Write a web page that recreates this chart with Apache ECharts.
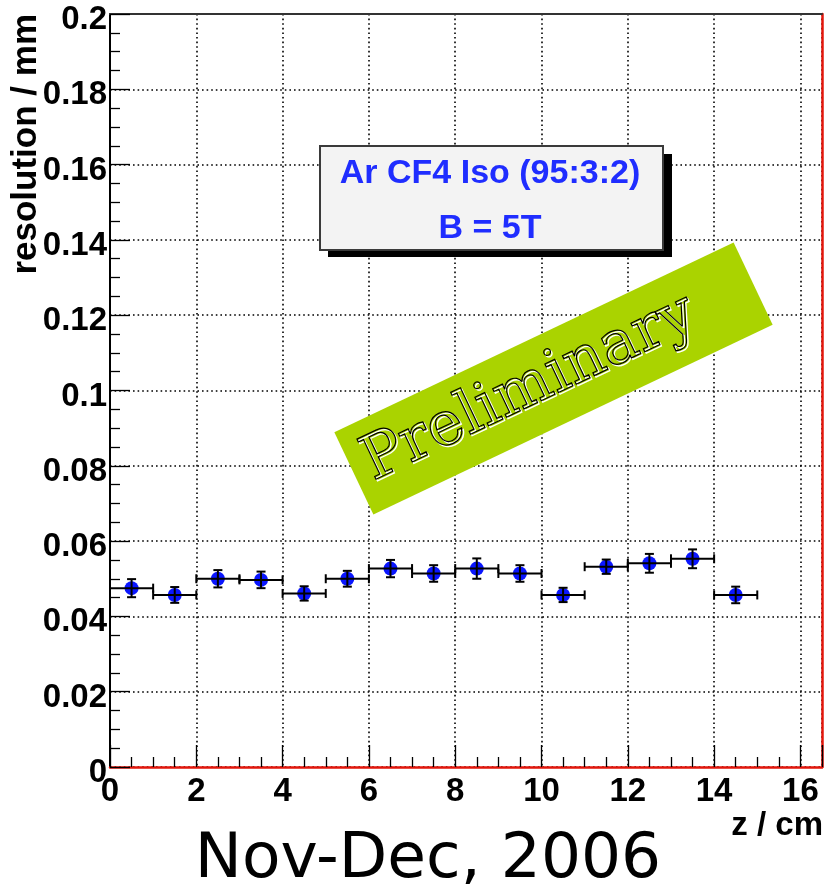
<!DOCTYPE html>
<html>
<head>
<meta charset="utf-8">
<script src="https://cdn.jsdelivr.net/npm/echarts@6/dist/echarts.min.js"></script>
<style>
html,body{margin:0;padding:0;background:#fff;}
#chart{width:827px;height:888px;}
</style>
</head>
<body>
<div id="chart"></div>
<script>
// ---- data ----
const zCenter = [0.5, 1.5, 2.5, 3.5, 4.5, 5.5, 6.5, 7.5, 8.5, 9.5, 10.5, 11.5, 12.5, 13.5, 14.5];
const zHalfWidth = [0.5, 0.5, 0.5, 0.5, 0.5, 0.5, 0.5, 0.5, 0.5, 0.5, 0.5, 0.5, 0.5, 0.5, 0.5];
const resolution = [0.0475, 0.0457, 0.0500, 0.0497, 0.0461, 0.0500, 0.0527, 0.0514, 0.0527, 0.0514, 0.0457, 0.0532, 0.0541, 0.0553, 0.0457];
const resolutionErr = [0.0024, 0.0021, 0.0023, 0.0022, 0.0019, 0.0021, 0.0023, 0.0022, 0.0027, 0.0022, 0.0019, 0.0019, 0.0025, 0.0025, 0.0022];

const xTickLabels = ['0', '2', '4', '6', '8', '10', '12', '14', '16'];
const yTickLabels = ['0', '0.02', '0.04', '0.06', '0.08', '0.1', '0.12', '0.14', '0.16', '0.18', '0.2'];

const xTitle = 'z / cm';
const yTitle = 'resolution / mm';
const legendLines = ['Ar CF4 Iso (95:3:2)', 'B = 5T'];
const stampText = 'Preliminary';
const footerText = 'Nov-Dec, 2006';

// ---- chart ----
const SANS = '"Liberation Sans", Arial, Helvetica, sans-serif';
const chart = echarts.init(document.getElementById('chart'), null, {renderer: 'canvas'});

const dotted = {color: '#000', width: 1.6, type: [1.6, 3]};

const option = {
  animation: false,
  backgroundColor: '#fff',
  grid: {left: 110, top: 14, right: 5, bottom: 121, outerBoundsMode: 'none'},
  xAxis: [{
    type: 'value', min: 0, max: 16.5, interval: 2, position: 'bottom',
    axisLine: {show: true, onZero: false, lineStyle: {color: '#e3160b', width: 2.5}},
    axisTick: {show: true, inside: true, length: 22, lineStyle: {color: '#000', width: 1.3}},
    minorTick: {show: true, splitNumber: 4, length: 10, lineStyle: {color: '#000', width: 1.3}},
    axisLabel: {
      fontFamily: SANS, fontWeight: 'bold', fontSize: 33, color: '#000', margin: 8,
      formatter: (v, i) => (xTickLabels[i] !== undefined ? xTickLabels[i] : '')
    },
    splitLine: {show: true, lineStyle: dotted}
  }, {
    type: 'value', min: 0, max: 16.5, position: 'top',
    axisLine: {show: true, onZero: false, lineStyle: {color: '#333', width: 2}},
    axisTick: {show: false}, axisLabel: {show: false}, splitLine: {show: false}
  }],
  yAxis: [{
    type: 'value', min: 0, max: 0.2, interval: 0.02, position: 'left',
    axisLine: {show: true, onZero: false, lineStyle: {color: '#000', width: 2}},
    axisTick: {show: true, inside: true, length: 20, lineStyle: {color: '#000', width: 1.3}},
    minorTick: {show: true, splitNumber: 4, length: 10, lineStyle: {color: '#000', width: 1.3}},
    axisLabel: {
      margin: 3,
      formatter: (v, i) => (yTickLabels[i] !== undefined ? '{t|' + yTickLabels[i] + '}' : ''),
      rich: {
        t: {fontFamily: SANS, fontWeight: 'bold', fontSize: 33, color: '#000', padding: [12, 0, 0, 0]}
      }
    },
    splitLine: {show: true, lineStyle: dotted}
  }, {
    type: 'value', min: 0, max: 0.2, position: 'right',
    axisLine: {show: true, onZero: false, lineStyle: {color: '#e3160b', width: 2.5}},
    axisTick: {show: false}, axisLabel: {show: false}, splitLine: {show: false}
  }],
  series: [{
    type: 'scatter',
    xAxisIndex: 0, yAxisIndex: 0,
    data: zCenter.map((z, i) => [z, resolution[i]]),
    symbol: 'circle', symbolSize: 14,
    itemStyle: {color: '#0a16ff', opacity: 1},
    z: 2
  }, {
    type: 'custom',
    xAxisIndex: 0, yAxisIndex: 0,
    data: zCenter.map((z, i) => [z, resolution[i], zHalfWidth[i], resolutionErr[i]]),
    encode: {x: 0, y: 1},
    z: 3,
    renderItem: function (params, api) {
      const x = api.value(0), y = api.value(1), xe = api.value(2), ye = api.value(3);
      const l = api.coord([x - xe, y]);
      const r = api.coord([x + xe, y]);
      const t = api.coord([x, y + ye]);
      const b = api.coord([x, y - ye]);
      const cap = 4.5;
      const st = {stroke: '#000', lineWidth: 2, fill: null};
      const ln = (x1, y1, x2, y2) => ({type: 'line', shape: {x1, y1, x2, y2}, style: st});
      return {
        type: 'group',
        children: [
          ln(l[0], l[1], r[0], r[1]),
          ln(l[0], l[1] - cap, l[0], l[1] + cap),
          ln(r[0], r[1] - cap, r[0], r[1] + cap),
          ln(t[0], t[1], b[0], b[1]),
          ln(t[0] - cap, t[1], t[0] + cap, t[1]),
          ln(b[0] - cap, b[1], b[0] + cap, b[1])
        ]
      };
    }
  }],
  graphic: [
    // y axis title
    {
      type: 'text', x: 26, y: 14, rotation: Math.PI / 2, z: 20,
      style: {text: yTitle, font: 'bold 35px ' + SANS, fill: '#000',
        textAlign: 'right', textVerticalAlign: 'middle', align: 'right', verticalAlign: 'middle'}
    },
    // x axis title
    {
      type: 'text', x: 823, y: 826, z: 20,
      style: {text: xTitle, font: 'bold 33px ' + SANS, fill: '#000',
        textAlign: 'right', textVerticalAlign: 'middle', align: 'right', verticalAlign: 'middle'}
    },
    // footer
    {
      type: 'text', x: 428, y: 861, z: 20,
      style: {text: footerText, font: '63px "DejaVu Sans", sans-serif', fill: '#000',
        textAlign: 'center', textVerticalAlign: 'middle', align: 'center', verticalAlign: 'middle'}
    },
    // legend box shadow
    {
      type: 'rect', z: 20, shape: {x: 328, y: 154, width: 344, height: 103},
      style: {fill: '#000'}
    },
    // legend box
    {
      type: 'rect', z: 21, shape: {x: 320, y: 146, width: 343, height: 104},
      style: {fill: '#f3f3f3', stroke: '#3a3a3a', lineWidth: 2}
    },
    {
      type: 'text', x: 490, y: 174, z: 22,
      style: {text: legendLines[0], font: 'bold 34px ' + SANS, fill: '#1f2dff',
        textAlign: 'center', textVerticalAlign: 'middle', align: 'center', verticalAlign: 'middle'}
    },
    {
      type: 'text', x: 490, y: 229, z: 22,
      style: {text: legendLines[1], font: 'bold 34px ' + SANS, fill: '#1f2dff',
        textAlign: 'center', textVerticalAlign: 'middle', align: 'center', verticalAlign: 'middle'}
    },
    // Preliminary stamp
    {
      type: 'group', x: 553.5, y: 378.5, rotation: 25.4 * Math.PI / 180, z: 30,
      children: [
        {type: 'rect', z: 30, shape: {x: -221, y: -45.5, width: 442, height: 91}, style: {fill: '#aad300'}},
        {type: 'text', z: 31, x: -25.2, y: 1.0,
          style: {text: stampText, font: '61px "DejaVu Serif", serif', fill: 'none', stroke: '#ffffff', lineWidth: 1.3,
            textAlign: 'center', textVerticalAlign: 'middle', align: 'center', verticalAlign: 'middle'}},
        {type: 'text', z: 32, x: -26, y: -1,
          style: {text: stampText, font: '61px "DejaVu Serif", serif', fill: 'none', stroke: '#000000', lineWidth: 1.2,
            textAlign: 'center', textVerticalAlign: 'middle', align: 'center', verticalAlign: 'middle'}}
      ]
    }
  ]
};

chart.setOption(option);
</script>
</body>
</html>
